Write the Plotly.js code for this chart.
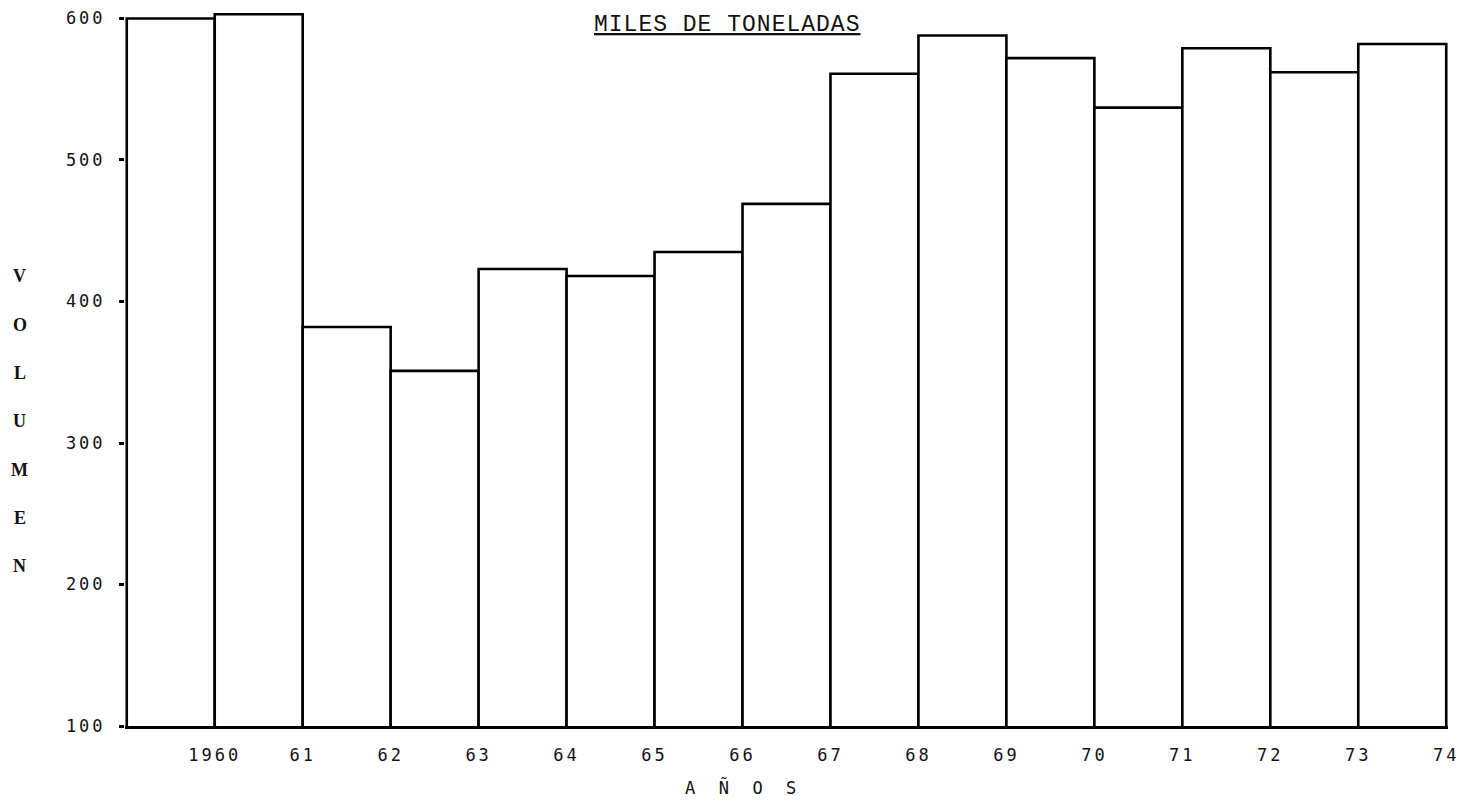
<!DOCTYPE html>
<html>
<head>
<meta charset="utf-8">
<script src="https://cdn.plot.ly/plotly-3.0.1.min.js"></script>
<style>
  html, body { margin: 0; padding: 0; background: #fff; }
  #chart { width: 1467px; height: 801px; }
  .xtick text, .ytick text { letter-spacing: 3px; }
  .annotation-text { letter-spacing: 1px; }
</style>
</head>
<body>
<div id="chart"></div>
<script>
// Period start year of each bar (bar covers [start, start+1])
const periodStart = [1959, 1960, 1961, 1962, 1963, 1964, 1965, 1966, 1967, 1968, 1969, 1970, 1971, 1972, 1973];
// Volume, miles de toneladas
const volumen = [600, 603, 382, 351, 423, 418, 435, 469, 561, 588, 572, 537, 579, 562, 582];

const tickYears = [1960, 1961, 1962, 1963, 1964, 1965, 1966, 1967, 1968, 1969, 1970, 1971, 1972, 1973, 1974];
const tickLabels = ['1960', '61', '62', '63', '64', '65', '66', '67', '68', '69', '70', '71', '72', '73', '74'];
const yTicks = [100, 200, 300, 400, 500, 600];

const titleText = 'MILES DE TONELADAS';
const yTitleText = 'VOLUMEN';
const xTitleText = 'A\u00A0\u00A0Ñ\u00A0\u00A0O\u00A0\u00A0S';

const trace = {
  type: 'bar',
  x: periodStart,
  y: volumen,
  offset: 0,
  width: 1,
  marker: { color: 'rgba(255,255,255,1)', line: { color: '#000', width: 2.6 } },
  hoverinfo: 'x+y'
};

const annotations = [{
  text: '<u>' + titleText + '</u>',
  xref: 'paper', yref: 'paper',
  x: 0.455, y: 1.0, yanchor: 'top', xanchor: 'center',
  showarrow: false,
  font: { family: 'Liberation Mono, Courier New, monospace', size: 23, color: '#111' }
}, {
  text: xTitleText,
  xref: 'paper', yref: 'paper',
  x: 0.4656, xanchor: 'center',
  y: -0.0865, yanchor: 'middle',
  showarrow: false,
  font: { family: 'DejaVu Sans Mono, monospace', size: 17, color: '#111' }
}];

yTitleText.split('').forEach((ch, i) => {
  annotations.push({
    text: ch,
    xref: 'paper', yref: 'paper',
    x: -0.079, xanchor: 'center',
    y: 0.628 - i * 0.0675, yanchor: 'middle',
    showarrow: false,
    font: { family: 'Liberation Serif, DejaVu Serif, serif', size: 18, color: '#111', weight: 'bold' }
  });
});

const layout = {
  width: 1467, height: 801,
  paper_bgcolor: '#fff', plot_bgcolor: '#fff',
  margin: { l: 125, r: 19, t: 9.5, b: 75 },
  bargap: 0,
  showlegend: false,
  font: { family: 'DejaVu Sans Mono, monospace', color: '#111' },
  xaxis: {
    range: [1958.98, 1974.02],
    tickmode: 'array', tickvals: tickYears, ticktext: tickLabels,
    showgrid: false, zeroline: false,
    showline: true, linecolor: '#000', linewidth: 2.6,
    ticks: '', ticklen: 0,
    ticklabelstandoff: 12,
    tickfont: { family: 'DejaVu Sans Mono, monospace', size: 17, color: '#111' }
  },
  yaxis: {
    range: [100, 606],
    tickmode: 'array', tickvals: yTicks,
    showgrid: false, zeroline: false,
    showline: false,
    ticks: 'outside', ticklen: 5, tickwidth: 3, tickcolor: '#000',
    ticklabelstandoff: 10,
    tickfont: { family: 'DejaVu Sans Mono, monospace', size: 17, color: '#111' }
  },
  annotations: annotations
};

Plotly.newPlot('chart', [trace], layout, { displayModeBar: false, staticPlot: true });
</script>
</body>
</html>
